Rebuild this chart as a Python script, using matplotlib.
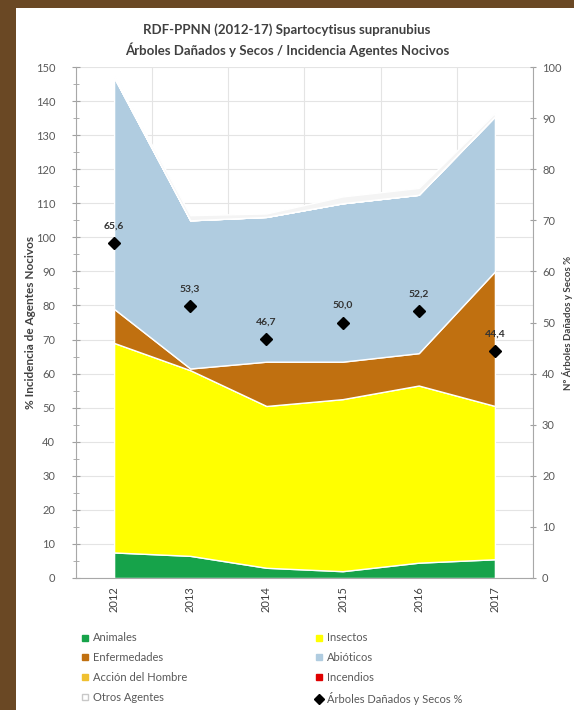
import numpy as np
import matplotlib
matplotlib.use("Agg")
import matplotlib.pyplot as plt
from matplotlib.lines import Line2D

plt.rcParams['font.family'] = ['Lato', 'DejaVu Sans']

# Data
years = ['2012', '2013', '2014', '2015', '2016', '2017']
animales = [7.5, 6.5, 3.0, 2.0, 4.5, 5.5]
insectos = [61.5, 54.5, 47.5, 50.5, 52.0, 45.0]
enfermedades = [10.0, 0.5, 13.0, 11.0, 9.5, 39.5]
abioticos = [68.0, 43.5, 42.5, 46.5, 46.5, 45.5]
accion_hombre = [0, 0, 0, 0, 0, 0]
incendios = [0, 0, 0, 0, 0, 0]
otros = [0.5, 1.5, 1.0, 2.0, 2.0, 1.0]
danados_secos = [65.6, 53.3, 46.7, 50.0, 52.2, 44.4]

colors = ['#16a34a', '#ffff00', '#c07010', '#b0cce0', '#f0c030', '#e00000', '#f4f4f4']

grey = '#595959'

fig = plt.figure(figsize=(5.74, 7.10), dpi=100)
fig.patch.set_facecolor('#6a4824')
# white chart panel on top of the brown background
bg = fig.add_axes([16 / 574, 0, 1 - 16 / 574, 1 - 8 / 710])
bg.set_facecolor('white')
bg.set_xticks([])
bg.set_yticks([])
for s in bg.spines.values():
    s.set_visible(False)

ax = fig.add_axes([76 / 574, 1 - 578 / 710, (533 - 76) / 574, (578 - 67) / 710])
ax.set_facecolor('white')
x = np.arange(len(years))

ax.stackplot(x, animales, insectos, enfermedades, abioticos, accion_hombre, incendios, otros,
             colors=colors, edgecolor='white', linewidth=1.0, zorder=2)

ax.set_xlim(-0.5, len(years) - 0.5)
ax.set_ylim(0, 150)
ax.set_yticks(np.arange(0, 151, 10))
ax.set_yticks(np.arange(0, 151, 5), minor=True)
ax.set_xticks(x)
ax.set_xticklabels(years, rotation=90, fontsize=8, color='#404040')
ax.set_xticks(np.arange(-0.5, len(years), 1), minor=True)
ax.tick_params(axis='x', which='major', length=0, pad=6)
ax.tick_params(axis='x', which='minor', length=4, direction='in', color='#a0a0a0')
ax.tick_params(axis='y', which='both', direction='inout', length=6, color='#a0a0a0',
               labelsize=8, labelcolor=grey, pad=12)
ax.tick_params(axis='y', which='minor', length=4)
ax.grid(axis='y', which='major', color='#e4e4e4', linewidth=0.8, zorder=0)
ax.grid(axis='x', which='minor', color='#e4e4e4', linewidth=0.8, zorder=0)
ax.set_axisbelow(True)
for side in ['top', 'right']:
    ax.spines[side].set_visible(False)
ax.spines['left'].set_color('#a8a8a8')
ax.spines['bottom'].set_color('#a8a8a8')
ax.set_ylabel('% Incidencia de Agentes Nocivos', fontsize=8.5, color='#404040',
              fontweight='bold', labelpad=0)

ax2 = ax.twinx()
ax2.set_ylim(0, 100)
ax2.set_yticks(np.arange(0, 101, 10))
ax2.tick_params(axis='y', direction='inout', length=5, color='#a0a0a0',
                labelsize=8, labelcolor=grey, pad=4)
for side in ['top', 'left', 'bottom']:
    ax2.spines[side].set_visible(False)
ax2.spines['right'].set_color('#a8a8a8')
ax2.plot(x, danados_secos, linestyle='none', marker='D', markersize=6,
         color='black', zorder=5)
for xi, v in zip(x, danados_secos):
    ax2.annotate(f'{v:.1f}'.replace('.', ','), (xi, v), xytext=(0, 9),
                 textcoords='offset points', ha='center', va='bottom',
                 fontsize=7.5, fontweight='bold', color='#333333')
ax2.set_ylabel('Nº Árboles Dañados y Secos %', fontsize=7, color='#404040',
               fontweight='bold', labelpad=0)

fig.text(0.5, 1 - 30 / 710, 'RDF-PPNN (2012-17) Spartocytisus supranubius',
         ha='center', va='center', fontsize=9.5, color='#404040', fontweight='bold')
fig.text(0.5, 1 - 50 / 710, 'Árboles Dañados y Secos / Incidencia Agentes Nocivos',
         ha='center', va='center', fontsize=9.5, color='#404040', fontweight='bold')

def sq(c, edge=None):
    return Line2D([], [], linestyle='none', marker='s', markersize=5,
                  markerfacecolor=c, markeredgecolor=edge or c)

handles = [sq(colors[0]), sq(colors[2]), sq(colors[4]), sq('#ffffff', '#c8c8c8'),
           sq(colors[1]), sq(colors[3]), sq(colors[5]),
           Line2D([], [], linestyle='none', marker='D', markersize=5, color='black')]
labels = ['Animales', 'Enfermedades', 'Acción del Hombre', 'Otros Agentes',
          'Insectos', 'Abióticos', 'Incendios', 'Árboles Dañados y Secos %']
fig.legend(handles, labels, ncol=2, loc='upper left', bbox_to_anchor=(76 / 574, 1 - 628 / 710),
           frameon=False, fontsize=8, labelcolor=grey, handlelength=0.8,
           handletextpad=0.3, columnspacing=11.5, labelspacing=0.8, borderaxespad=0)

fig.savefig('out.png', dpi=100, facecolor=fig.get_facecolor())
